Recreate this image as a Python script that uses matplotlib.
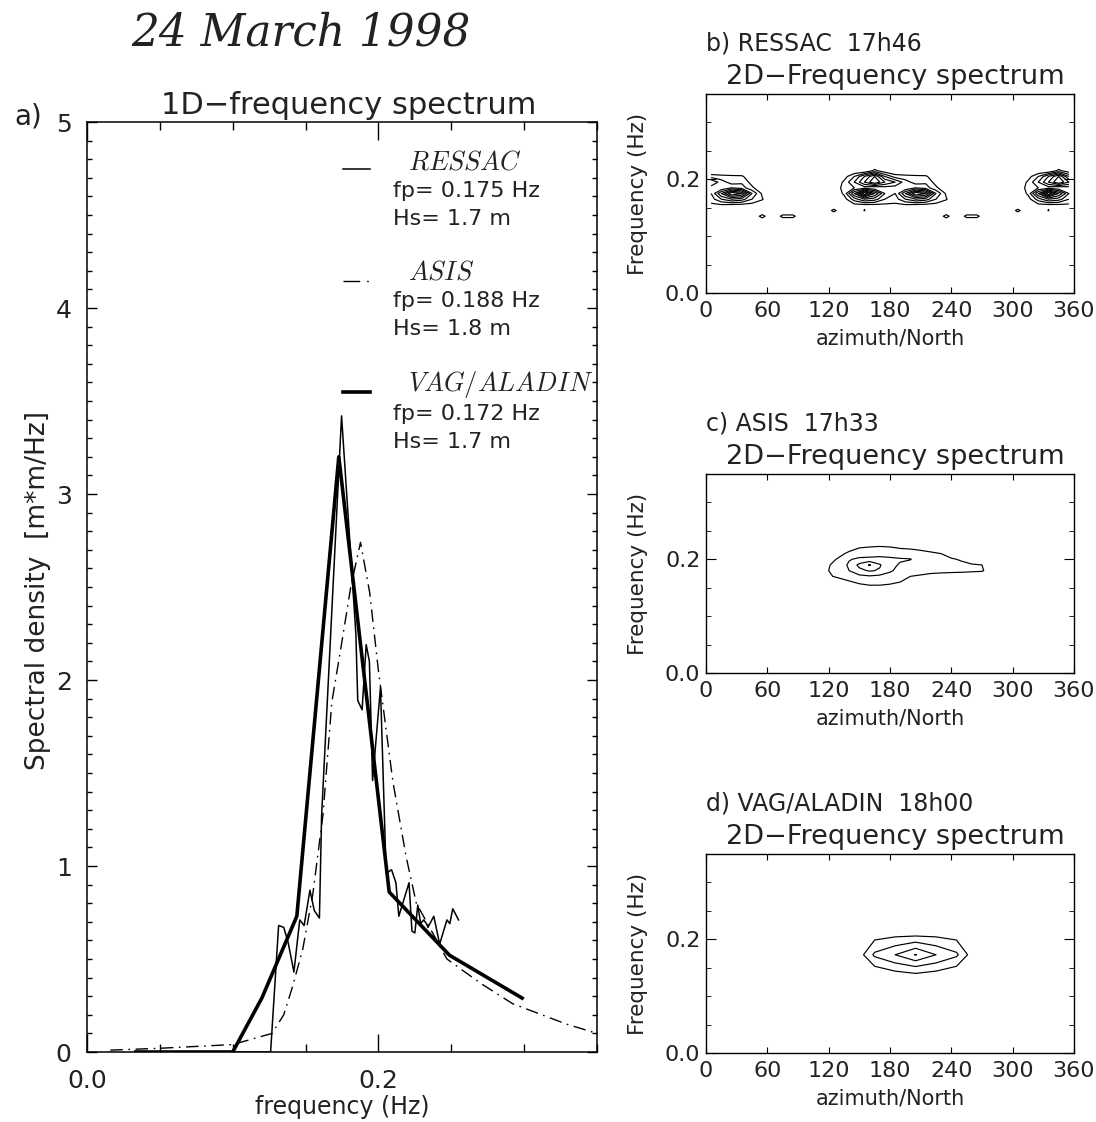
import numpy as np
import matplotlib
matplotlib.use('Agg')
import matplotlib.pyplot as plt
from matplotlib.lines import Line2D

plt.rcParams['font.family'] = ['DejaVu Sans']
plt.rcParams['mathtext.fontset'] = 'cm'

# ---- 1D spectra (frequency in Hz, density in m*m/Hz) ----
ressac_f = [0.040, 0.126, 0.1315, 0.135, 0.138, 0.142, 0.146, 0.149, 0.153, 0.156,
            0.1595, 0.161, 0.1747, 0.1845, 0.1858, 0.1888, 0.1916, 0.1938, 0.196,
            0.2014, 0.2053, 0.209, 0.212, 0.214, 0.221, 0.223, 0.225, 0.227, 0.229,
            0.231, 0.233, 0.234, 0.238, 0.242, 0.247, 0.249, 0.251, 0.255]
ressac_s = [0.0, 0.0, 0.68, 0.67, 0.59, 0.43, 0.71, 0.68, 0.87, 0.76,
            0.72, 1.27, 3.42, 2.25, 1.89, 1.84, 2.19, 2.10, 1.46,
            1.96, 0.96, 0.98, 0.91, 0.73, 0.91, 0.65, 0.64, 0.79, 0.69,
            0.71, 0.69, 0.67, 0.73, 0.58, 0.71, 0.69, 0.77, 0.71]

asis_f = [0.016, 0.05, 0.10, 0.127, 0.135, 0.141, 0.148, 0.155, 0.162, 0.168,
          0.1744, 0.181, 0.1877, 0.194, 0.200, 0.210, 0.219, 0.226, 0.247,
          0.270, 0.292, 0.329, 0.350]
asis_s = [0.01, 0.02, 0.04, 0.10, 0.20, 0.35, 0.55, 0.85, 1.28, 1.88,
          2.18, 2.50, 2.74, 2.47, 2.05, 1.45, 1.05, 0.80, 0.50,
          0.37, 0.26, 0.15, 0.10]

vag_f = [0.0335, 0.0402, 0.0482, 0.0579, 0.0694, 0.0833, 0.100, 0.120, 0.144,
         0.1728, 0.2074, 0.2488, 0.2986]
vag_s = [0.0, 0.0, 0.0, 0.0, 0.0, 0.0, 0.0, 0.29, 0.73, 3.20, 0.86, 0.52, 0.29]

names = ['RESSAC', 'ASIS', 'VAG/ALADIN']
fp_vals = ['0.175', '0.188', '0.172']
hs_vals = ['1.7', '1.8', '1.7']

# ---- 2D spectra (azimuth deg, frequency Hz) ----
# RESSAC: 180 deg ambiguity, half spectrum 0-180 mirrored to 180-360
ressac_az_half = [5, 15, 25, 35, 45, 55, 65, 75, 85, 95, 105, 115, 125, 135, 145, 155, 165, 175]
ressac_freq = [0.115, 0.125, 0.135, 0.145, 0.155, 0.165, 0.175, 0.185, 0.195, 0.205, 0.215, 0.225]
ressac_half = [
    [0, 0, 0, 0, 0, 0, 0, 0, 0, 0, 0, 0, 0, 0, 0, 0, 0, 0],
    [0, 0, 0, 0, 0, 0, 0, 0, 0, 0, 0, 0, 0, 0, 0, 0, 0, 0],
    [0, 0, 0, 0, 0, 1.4, 0, 1.3, 1.3, 0, 0, 0, 0, 0, 0, 0, 0, 0],
    [0, 0, 0, 0, 0, 0, 0, 0, 0, 0, 0, 0, 1.3, 0, 0, 1.05, 0, 0],
    [0.8, 0.9, 0.8, 0.7, 0.6, 0.3, 0, 0, 0, 0, 0, 0, 0, 0.3, 0.7, 0.8, 0.8, 0.8],
    [1.5, 3.0, 4.0, 3.5, 2.0, 1.1, 0, 0, 0, 0, 0, 0, 0, 0.5, 2.5, 4.0, 3.5, 2.0],
    [2.0, 5.0, 8.0, 7.0, 3.0, 0.8, 0, 0, 0, 0, 0, 0, 0, 1.2, 5.0, 9.0, 6.0, 3.0],
    [2.5, 2.0, 3.0, 2.5, 1.2, 0.2, 0, 0, 0, 0, 0, 0, 0, 1.5, 2.0, 2.5, 2.0, 2.5],
    [4.0, 2.5, 1.5, 1.8, 0.6, 0, 0, 0, 0, 0, 0, 0, 0, 1.2, 3.0, 5.0, 7.0, 5.0],
    [1.5, 1.3, 1.2, 1.15, 0.3, 0, 0, 0, 0, 0, 0, 0, 0, 0.5, 2.0, 4.0, 6.0, 3.0],
    [0, 0, 0, 0, 0, 0, 0, 0, 0, 0, 0, 0, 0, 0, 0, 0, 1.3, 0.3],
    [0, 0, 0, 0, 0, 0, 0, 0, 0, 0, 0, 0, 0, 0, 0, 0, 0, 0],
]
ressac_levels = [1, 2, 3, 4, 5, 6, 7, 8]

asis_az = [110, 120, 130, 140, 150, 160, 170, 180, 190, 200, 210, 220, 230, 240, 250, 260, 270, 280, 290]
asis_freq = [0.14, 0.15, 0.16, 0.17, 0.18, 0.19, 0.20, 0.21, 0.22, 0.23]
asis_2d = [
    [0, 0, 0, 0, 0, 0, 0, 0, 0, 0, 0, 0, 0, 0, 0, 0, 0, 0, 0],
    [0, 0, 0, 0, 0.3, 0.6, 0.6, 0.5, 0.2, 0, 0, 0, 0, 0, 0, 0, 0, 0, 0],
    [0, 0, 0.3, 0.8, 1.3, 1.5, 1.5, 1.3, 1.0, 0.8, 0.6, 0.4, 0.2, 0, 0, 0, 0, 0, 0],
    [0, 0.8, 1.3, 1.8, 2.5, 2.8, 2.5, 2.2, 1.6, 1.0, 0.9, 0.8, 0.7, 0.6, 0.5, 0.4, 0.3, 0, 0],
    [0, 1.0, 1.8, 3.0, 4.5, 5.2, 4.8, 3.3, 2.3, 1.5, 1.3, 1.2, 1.2, 1.2, 1.2, 1.15, 1.1, 0.5, 0],
    [0, 0.9, 1.6, 3.4, 5.5, 7.2, 5.2, 3.5, 2.8, 2.2, 1.6, 1.5, 1.4, 1.3, 1.2, 1.1, 1.0, 0.4, 0],
    [0, 0.5, 1.2, 2.8, 3.5, 3.6, 3.6, 3.4, 3.2, 3.1, 1.8, 1.4, 1.3, 1.1, 0.9, 0.5, 0.2, 0, 0],
    [0, 0, 0.6, 1.3, 1.8, 2.0, 2.3, 2.2, 2.0, 1.8, 1.4, 1.2, 1.0, 0.6, 0.2, 0, 0, 0, 0],
    [0, 0, 0, 0.5, 1.0, 1.2, 1.35, 1.2, 0.9, 0.8, 0.7, 0.5, 0.3, 0, 0, 0, 0, 0, 0],
    [0, 0, 0, 0, 0, 0, 0, 0, 0, 0, 0, 0, 0, 0, 0, 0, 0, 0, 0],
]
asis_levels = [1, 3, 5, 7]

vag_az = [125, 145, 165, 185, 205, 225, 245, 265, 285]
vag_freq = [0.100, 0.120, 0.144, 0.1728, 0.2074, 0.2488]
vag_2d = [
    [0, 0, 0, 0, 0, 0, 0, 0, 0],
    [0, 0, 0, 0, 0, 0, 0, 0, 0],
    [0, 0, 0.5, 1.0, 1.2, 1.0, 0.5, 0, 0],
    [0, 0, 2.2, 3.0, 4.05, 3.0, 2.2, 0, 0],
    [0, 0, 0.6, 0.8, 0.85, 0.8, 0.6, 0, 0],
    [0, 0, 0, 0, 0, 0, 0, 0, 0],
]
vag_levels = [1, 2, 3, 4]

panels = [
    ('b) RESSAC  17h46', 'ressac'),
    ('c) ASIS  17h33', 'asis'),
    ('d) VAG/ALADIN  18h00', 'vag'),
]

W, H = 1096, 1122
TXT = '#222222'


def box(l, t, r, b):
    return [l / W, 1 - b / H, (r - l) / W, (b - t) / H]


def px(x, y):
    return x / W, 1 - y / H


fig = plt.figure(figsize=(W / 100, H / 100), dpi=100)

# ---------------- main 1D panel ----------------
ax = fig.add_axes(box(87, 122, 597, 1052))
ax.plot(ressac_f, ressac_s, color='k', lw=1.1)
ax.plot(asis_f, asis_s, color='k', lw=1.0, dashes=(9, 4, 1.2, 4))
ax.plot(vag_f, vag_s, color='k', lw=2.6)
ax.set_xlim(0, 0.35)
ax.set_ylim(0, 5)
ax.set_xticks([0.0, 0.2])
ax.set_xticklabels(['0.0', '0.2'])
ax.set_xticks(np.arange(0, 0.351, 0.05), minor=True)
ax.set_yticks([0, 1, 2, 3, 4, 5])
ax.set_yticks(np.arange(0, 5.01, 0.1), minor=True)
ax.tick_params(which='both', direction='in', top=True, right=True,
               colors='k', labelcolor=TXT, labelsize=18)
ax.tick_params(axis='x', which='major', length=13, width=1, pad=12)
ax.tick_params(axis='x', which='minor', length=6, width=1)
ax.tick_params(axis='y', which='major', length=7.5, width=1, pad=11)
ax.tick_params(axis='y', which='minor', length=3.5, width=1)
for sp in ax.spines.values():
    sp.set_linewidth(1.1)
ax.set_xlabel('frequency (Hz)', fontsize=17, color=TXT, labelpad=2)

fig.text(*px(38, 590), 'Spectral density  [m*m/Hz]', rotation=90,
         ha='center', va='center', fontsize=19, color=TXT)
fig.text(*px(14, 116), 'a)', ha='left', va='center', fontsize=20, color=TXT)
fig.text(*px(161, 105), '1D\u2212frequency spectrum', ha='left', va='center',
         fontsize=22, color=TXT)
fig.text(*px(131, 33), '24 March 1998', ha='left', va='center',
         fontsize=31.5, family='DejaVu Serif', style='italic', color=TXT)

# legend block
name_y = [162, 272, 385]
sample_y = [169, 281, 392]
samples = [dict(lw=1.1), dict(lw=1.0, dashes=(12, 5, 1.2, 4)), dict(lw=2.6)]
for i in range(3):
    x0, y0 = px(343, sample_y[i])
    x1, _ = px(370, sample_y[i])
    fig.add_artist(Line2D([x0, x1], [y0, y0], color='k',
                          transform=fig.transFigure, **samples[i]))
    fig.text(*px(408, name_y[i]), r'$\mathit{%s}$' % names[i], ha='left',
             va='center', fontsize=19, color=TXT)
    fig.text(*px(393, name_y[i] + 29), 'fp= %s Hz' % fp_vals[i], ha='left',
             va='center', fontsize=16, color=TXT)
    fig.text(*px(393, name_y[i] + 57), 'Hs= %s m' % hs_vals[i], ha='left',
             va='center', fontsize=16, color=TXT)

# ---------------- 2D panels ----------------
ressac_az = np.concatenate([ressac_az_half, np.array(ressac_az_half) + 180])
ressac_2d = np.hstack([np.array(ressac_half), np.array(ressac_half)])

data2d = {
    'ressac': (ressac_az, ressac_freq, ressac_2d, ressac_levels),
    'asis': (asis_az, asis_freq, np.array(asis_2d), asis_levels),
    'vag': (vag_az, vag_freq, np.array(vag_2d), vag_levels),
}
tops = [94, 474, 854]

for (label, key), top in zip(panels, tops):
    a = fig.add_axes(box(706, top, 1074, top + 199))
    az, fr, z, lev = data2d[key]
    a.contour(az, fr, z, levels=lev, colors='k', linewidths=0.85)
    a.set_xlim(0, 360)
    a.set_ylim(0, 0.35)
    a.set_xticks(range(0, 361, 60))
    a.set_yticks([0.0, 0.2])
    a.set_yticklabels(['0.0', '0.2'])
    a.set_yticks(np.arange(0, 0.351, 0.05), minor=True)
    a.tick_params(which='both', direction='in', top=True, right=True,
                  colors='k', labelcolor=TXT, labelsize=16)
    a.tick_params(axis='x', which='major', length=4, pad=6)
    a.tick_params(axis='y', which='major', length=7, pad=4)
    a.tick_params(axis='y', which='minor', length=3.5)
    for sp in a.spines.values():
        sp.set_linewidth(1.0)
    a.set_xlabel('azimuth/North', fontsize=15, color=TXT, labelpad=5)
    a.set_ylabel('Frequency (Hz)', fontsize=15.5, color=TXT, labelpad=12)
    fig.text(*px(706, top - 50), label, ha='left', va='center', fontsize=17, color=TXT)
    fig.text(*px(726, top - 17), '2D\u2212Frequency spectrum', ha='left',
             va='center', fontsize=19.5, color=TXT)

fig.savefig('out.png', dpi=100)
